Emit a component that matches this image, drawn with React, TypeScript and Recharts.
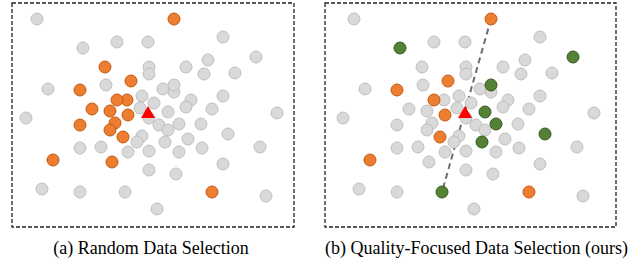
import React from 'react';
import { ScatterChart, Scatter, XAxis, YAxis, ReferenceArea, ReferenceLine } from 'recharts';

// points in box coordinates (x right, y down), same positions in both panels
const poolPoints = [
  [25, 16], [105, 39], [136, 39], [211, 34], [196, 57], [174, 64], [192, 71], [223, 70],
  [137, 64], [137, 71], [36, 86], [94, 82], [151, 86], [162, 89], [130, 93], [142, 100],
  [179, 97], [211, 93], [174, 104], [200, 106], [128, 105], [265, 110], [14, 115], [137, 115],
  [147, 122], [156, 127], [189, 121], [130, 133], [125, 139], [176, 136], [68, 145], [89, 144],
  [116, 149], [137, 148], [167, 149], [190, 145], [248, 144], [211, 161], [137, 167], [164, 171],
  [30, 186], [68, 189], [254, 193], [145, 206],
];
// gray in (a), green in (b)
const qualityPoints = [
  [71, 45], [244, 54], [162, 82], [156, 109], [167, 121], [153, 139], [216, 131], [113, 189],
];
// orange in both panels
const sharedPoints = [
  [162, 16], [119, 78], [68, 87], [105, 97], [116, 112], [111, 134], [41, 157], [200, 189],
];
// orange in (a), gray in (b)
const randomOnlyPoints = [
  [93, 64], [115, 97], [80, 106], [98, 108], [103, 120], [68, 122], [98, 127], [100, 159],
];
const targetPoint = [[136, 111]];
const captions = ['(a) Random Data Selection', '(b) Quality-Focused Data Selection (ours)'];

const toData = (pts: number[][]) => pts.map(([x, y]) => ({ x, y }));

const dot = (fill: string, stroke: string) => (p: any) => (
  <circle cx={p.cx} cy={p.cy} r={6} fill={fill} stroke={stroke} strokeWidth={1} />
);
const tri = (p: any) => (
  <polygon
    points={`${p.cx},${p.cy - 8} ${p.cx - 7},${p.cy + 4} ${p.cx + 7},${p.cy + 4}`}
    fill="#ff0000"
  />
);

const grayDot = dot('#d9d9d9', '#bfbfbf');
const orangeDot = dot('#ed7d31', '#c55a11');
const greenDot = dot('#548235', '#385723');

const H = 224;

const Panel = ({ left, width, xMin, gray, orange, green, line }: any) => {
  const xMax = xMin + width;
  return (
    <div style={{ position: 'absolute', left: left - 1, top: 2 }}>
      <ScatterChart width={width + 2} height={H + 2} margin={{ top: 1, right: 1, bottom: 1, left: 1 }}>
        <XAxis type="number" dataKey="x" domain={[xMin, xMax]} allowDataOverflow hide />
        <YAxis type="number" dataKey="y" domain={[0, H]} allowDataOverflow reversed hide />
        <ReferenceArea x1={xMin} x2={xMax} y1={0} y2={H} fill="none" stroke="#222" strokeWidth={1.3} strokeDasharray="4 2" />
        <Scatter data={toData(gray)} shape={grayDot} isAnimationActive={false} />
        {line && (
          <ReferenceLine
            segment={[{ x: sharedPoints[0][0], y: sharedPoints[0][1] }, { x: qualityPoints[7][0], y: qualityPoints[7][1] }]}
            stroke="#6e6e6e"
            strokeWidth={2}
            strokeDasharray="6 4"
          />
        )}
        <Scatter data={toData(orange)} shape={orangeDot} isAnimationActive={false} />
        {green && <Scatter data={toData(green)} shape={greenDot} isAnimationActive={false} />}
        <Scatter data={toData(targetPoint)} shape={tri} isAnimationActive={false} />
      </ScatterChart>
    </div>
  );
};

const captionStyle: React.CSSProperties = {
  position: 'absolute',
  top: 237,
  fontFamily: '"Liberation Serif", "Times New Roman", serif',
  fontSize: 18,
  lineHeight: '22px',
  textAlign: 'center',
  color: '#000',
  whiteSpace: 'nowrap',
};

export default function App() {
  return (
    <div style={{ position: 'absolute', left: 0, top: 0, width: 641, height: 266, background: '#fff' }}>
      <Panel
        left={12}
        width={282}
        xMin={0}
        gray={[...poolPoints, ...qualityPoints]}
        orange={[...randomOnlyPoints, ...sharedPoints]}
      />
      <Panel
        left={325}
        width={291}
        xMin={-4}
        gray={[...poolPoints, ...randomOnlyPoints]}
        orange={sharedPoints}
        green={qualityPoints}
        line
      />
      <div style={{ ...captionStyle, left: 10, width: 282 }}>{captions[0]}</div>
      <div style={{ ...captionStyle, left: 325, width: 291 }}>{captions[1]}</div>
    </div>
  );
}
